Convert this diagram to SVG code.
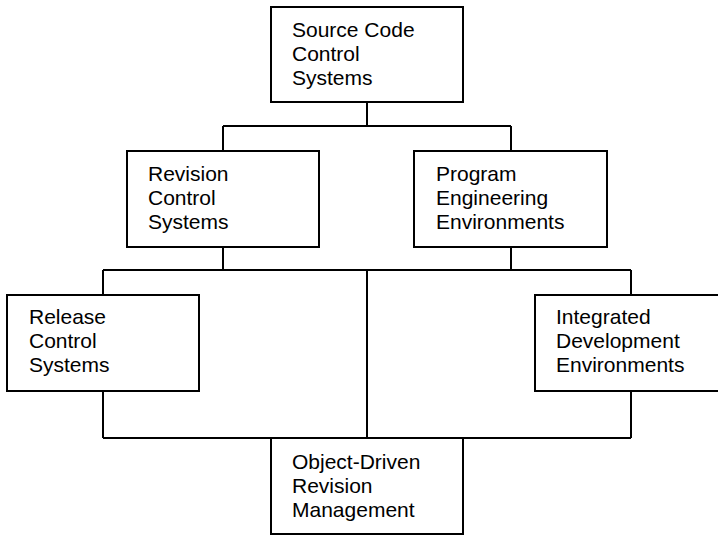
<svg xmlns="http://www.w3.org/2000/svg" width="718" height="535" viewBox="0 0 718 535">
<style>
.box{fill:#fff;stroke:#000;stroke-width:2}
.ln{fill:none;stroke:#000;stroke-width:2}
text{font-family:"Liberation Sans",Arial,sans-serif;font-size:21px;fill:#000}
</style>
<rect width="718" height="535" fill="#fff"/>
<g id="connectors" class="ln">
<path d="M367,102V126M223,126H511M223,126V151M511,126V151"/>
<path d="M223,247V270M511,247V270M103,270H631M103,270V295M631,270V295M367,270V438"/>
<path d="M103,391V438M631,391V438M103,438H631"/>
</g>
<g id="source">
<rect class="box" x="271" y="7" width="192" height="95"/>
<text x="292" y="37">Source Code</text><text x="292" y="61">Control</text><text x="292" y="85">Systems</text>
</g>
<g id="revision">
<rect class="box" x="127" y="151" width="192" height="96"/>
<text x="148" y="181">Revision</text><text x="148" y="205">Control</text><text x="148" y="229">Systems</text>
</g>
<g id="program">
<rect class="box" x="414" y="151" width="193" height="96"/>
<text x="436" y="181">Program</text><text x="436" y="205">Engineering</text><text x="436" y="229">Environments</text>
</g>
<g id="release">
<rect class="box" x="7" y="295" width="192" height="96"/>
<text x="29" y="324">Release</text><text x="29" y="348">Control</text><text x="29" y="372">Systems</text>
</g>
<g id="integrated">
<rect class="box" x="535" y="295" width="192" height="96"/>
<text x="556" y="324">Integrated</text><text x="556" y="348">Development</text><text x="556" y="372">Environments</text>
</g>
<g id="object">
<rect class="box" x="271" y="438" width="192" height="96"/>
<text x="292" y="469">Object-Driven</text><text x="292" y="493">Revision</text><text x="292" y="517">Management</text>
</g>
</svg>
